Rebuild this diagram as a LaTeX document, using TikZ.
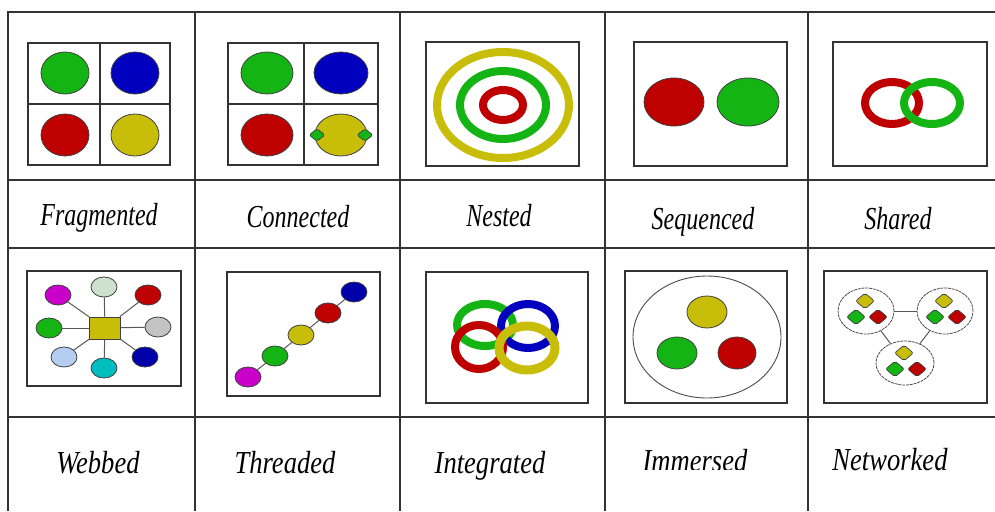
\documentclass[tikz,border=0pt]{standalone}
\usepackage{fontspec}
\setmainfont{Liberation Serif}
\newfontfamily\lblfontA[FakeStretch=0.75]{Liberation Serif}
\newfontfamily\lblfontB[FakeStretch=0.83]{Liberation Serif}
\usetikzlibrary{shapes.geometric}
\definecolor{cgreen}{RGB}{20,180,20}
\definecolor{cblue}{RGB}{0,0,190}
\definecolor{cred}{RGB}{190,0,0}
\definecolor{cyel}{RGB}{200,190,10}
\definecolor{cmag}{RGB}{200,0,200}
\definecolor{cpale}{RGB}{205,225,205}
\definecolor{cgray}{RGB}{195,195,195}
\definecolor{clblue}{RGB}{180,205,240}
\definecolor{ccyan}{RGB}{0,190,190}
\definecolor{cnavy}{RGB}{0,0,170}
\tikzset{
  tablerule/.style={draw=black!80, line width=1.4pt},
  picframe/.style={draw=black!80, line width=1.4pt},
  blob/.style={ellipse, draw=black!75, line width=0.8pt, inner sep=0pt, minimum width=26pt, minimum height=20pt},
  ringline/.style={line width=8pt},
  solid/.style={draw=black!75, line width=0.8pt},
  spoke/.style={draw=black!65, line width=1pt},
  cluster/.style={ellipse, draw=black!70, line width=0.8pt, dash pattern=on 3pt off 0.8pt, inner sep=0pt, minimum width=56pt, minimum height=46pt},
  gem/.style={diamond, draw=black!75, line width=0.7pt, inner sep=0pt, rounded corners=2pt, minimum width=19pt, minimum height=16pt},
  lbla/.style={anchor=base, inner sep=0pt, font=\lblfontA\itshape\fontsize{32}{38}\selectfont},
  lblb/.style={anchor=base, inner sep=0pt, font=\lblfontB\itshape\fontsize{32}{38}\selectfont}
}
\begin{document}
\begin{tikzpicture}[x=1pt,y=-1pt]
\useasboundingbox (0,0) rectangle (995,511);
\fill[white] (0,0) rectangle (995,511);
% table rules
\draw[tablerule] (8,511) -- (8,12) -- (995,12);
\foreach \yy in {180,248,417} \draw[tablerule] (8,\yy) -- (995,\yy);
\foreach \xx in {195,400,605,808} \draw[tablerule] (\xx,12) -- (\xx,511);

% Fragmented
\draw[picframe] (28,43) rectangle (170,165);
\draw[picframe] (100,43) -- (100,165) (28,104) -- (170,104);
\filldraw[fill=cgreen, solid] (65,73) ellipse [x radius=24, y radius=21];
\filldraw[fill=cblue, solid] (135,73) ellipse [x radius=24, y radius=21];
\filldraw[fill=cred, solid] (65,135) ellipse [x radius=24, y radius=21];
\filldraw[fill=cyel, solid] (135,135) ellipse [x radius=24, y radius=21];

% Connected
\draw[picframe] (228,43) rectangle (378,165);
\draw[picframe] (304,43) -- (304,165) (228,104) -- (378,104);
\filldraw[fill=cgreen, solid] (267,73) ellipse [x radius=26, y radius=21];
\filldraw[fill=cblue, solid] (341,73) ellipse [x radius=27, y radius=21];
\filldraw[fill=cred, solid] (267,135) ellipse [x radius=26, y radius=21];
\filldraw[fill=cyel, solid] (341,135) ellipse [x radius=26, y radius=21];
\node[gem, fill=cgreen, minimum width=16pt, minimum height=13pt] (cl) at (317,135) {};
\node[gem, fill=cgreen, minimum width=16pt, minimum height=13pt] (cr) at (365,135) {};

% Nested
\draw[picframe] (426,42) rectangle (579,166);
\draw[ringline, cyel] (503,105) ellipse [x radius=66, y radius=53];
\draw[ringline, cgreen] (503,105) ellipse [x radius=43, y radius=34];
\draw[ringline, cred] (503,105) ellipse [x radius=20, y radius=15];

% Sequenced
\draw[picframe] (634,42) rectangle (787,166);
\filldraw[fill=cred, solid] (674,102) ellipse [x radius=30, y radius=24];
\filldraw[fill=cgreen, solid] (748,102) ellipse [x radius=31, y radius=24];

% Shared
\draw[picframe] (833,42) rectangle (987,166);
\draw[ringline, cred] (892,103) ellipse [x radius=27, y radius=21];
\draw[ringline, cgreen] (932,103) ellipse [x radius=28, y radius=21];

% Webbed
\draw[picframe] (27,271) rectangle (181,386);
\node[rectangle, draw=black!75, line width=0.8pt, fill=cyel, minimum width=31pt, minimum height=22pt, inner sep=0pt] (hub) at (105,328) {};
\node[blob, fill=cmag] (w1) at (58,295) {};
\node[blob, fill=cpale] (w2) at (104,287) {};
\node[blob, fill=cred] (w3) at (148,295) {};
\node[blob, fill=cgreen] (w4) at (49,328) {};
\node[blob, fill=cgray] (w5) at (158,327) {};
\node[blob, fill=clblue] (w6) at (64,357) {};
\node[blob, fill=ccyan] (w7) at (104,368) {};
\node[blob, fill=cnavy] (w8) at (145,357) {};
\foreach \w in {w1,w2,w3,w4,w5,w6,w7,w8} \draw[spoke] (hub) -- (\w);

% Threaded
\draw[picframe] (227,272) rectangle (380,396);
\node[blob, fill=cnavy] (t1) at (354,292) {};
\node[blob, fill=cred] (t2) at (328,313) {};
\node[blob, fill=cyel] (t3) at (301,335) {};
\node[blob, fill=cgreen] (t4) at (275,356) {};
\node[blob, fill=cmag] (t5) at (248,377) {};
\draw[spoke] (t1) -- (t2);
\draw[spoke] (t2) -- (t3);
\draw[spoke] (t3) -- (t4);
\draw[spoke] (t4) -- (t5);

% Integrated
\draw[picframe] (426,272) rectangle (588,403);
\draw[ringline, cgreen] (485,325) ellipse [x radius=28, y radius=21];
\draw[ringline, cblue] (528,326) ellipse [x radius=27, y radius=22];
\draw[ringline, cred] (479,347) ellipse [x radius=24, y radius=22];
\draw[ringline, cyel, line width=9pt] (527,348) ellipse [x radius=28, y radius=22];

% Immersed
\draw[picframe] (625,271) rectangle (787,403);
\draw[draw=black!70, line width=0.9pt] (707,337) ellipse [x radius=74, y radius=61];
\filldraw[fill=cyel, solid] (707,312) ellipse [x radius=20, y radius=16];
\filldraw[fill=cgreen, solid] (677,353) ellipse [x radius=20, y radius=16];
\filldraw[fill=cred, solid] (737,353) ellipse [x radius=19, y radius=16];

% Networked
\draw[picframe] (824,271) rectangle (987,403);
\node[cluster] (nl) at (866,311) {};
\node[cluster] (nr) at (945,311) {};
\node[cluster, minimum width=58pt, minimum height=44pt] (nb) at (905,363) {};
\draw[spoke] (nl) -- (nr);
\draw[spoke] (nl) -- (nb);
\draw[spoke] (nr) -- (nb);
\foreach \c/\cx/\cy in {l/866/311, r/945/311, b/905/363} {
  \node[gem, fill=cyel] (\c y) at (\cx-1,\cy-10) {};
  \node[gem, fill=cgreen] (\c g) at (\cx-10,\cy+6) {};
  \node[gem, fill=cred] (\c r) at (\cx+12,\cy+6) {};
}

% Labels
\node[lbla] (lf) at (99,225) {Fragmented};
\node[lbla] (lc) at (298,227) {Connected};
\node[lbla] (ln) at (499,226) {Nested};
\node[lbla] (ls) at (703,229) {Sequenced};
\node[lbla] (lsh) at (898,229) {Shared};
\node[lblb] (lw) at (98,473) {Webbed};
\node[lblb] (lt) at (285,473) {Threaded};
\node[lblb] (li) at (490,473) {Integrated};
\begin{scope}
\clip (606,418) rectangle (807,469);
\node[lblb] (lim) at (695,471) {Immersed};
\end{scope}
\node[lblb] (lnw) at (890,470) {Networked};
\end{tikzpicture}
\end{document}
